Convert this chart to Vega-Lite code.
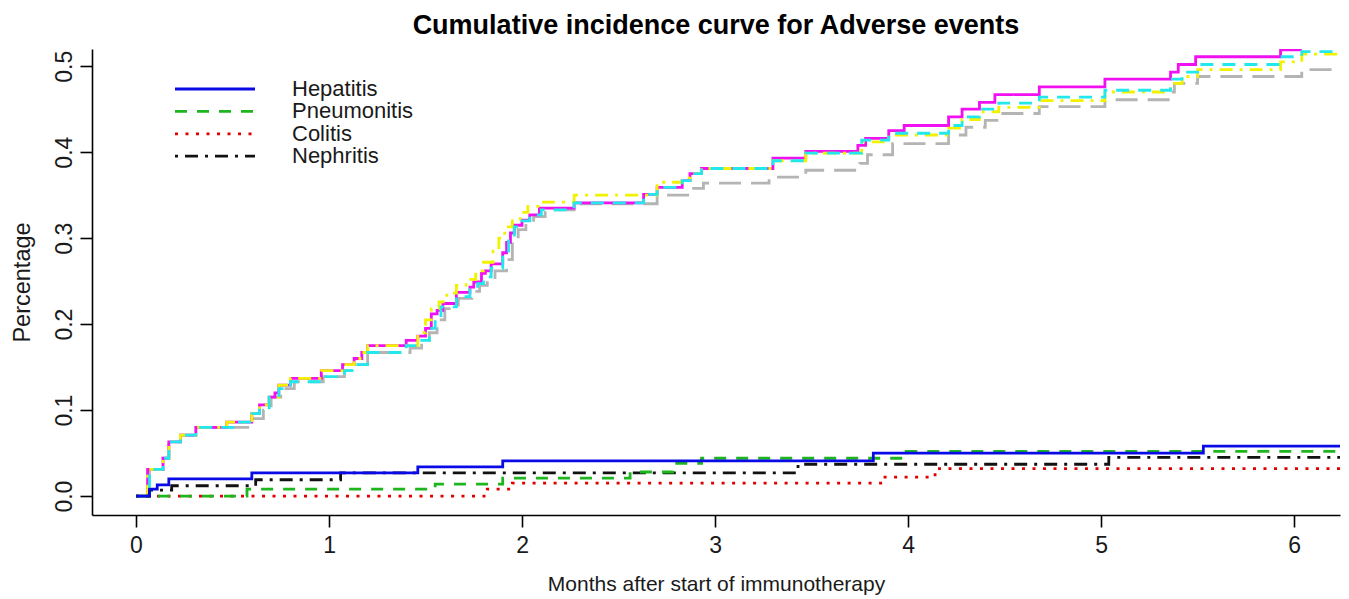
{
  "$schema": "https://vega.github.io/schema/vega-lite/v6.json",
  "width": 1248,
  "height": 466,
  "autosize": {"type": "none"},
  "padding": {"left": 92, "top": 49, "right": 9, "bottom": 84},
  "background": "white",
  "title": {"text": "Cumulative incidence curve for Adverse events", "font": "Liberation Sans", "fontSize": 27, "fontWeight": "bold", "color": "#000000", "anchor": "middle", "baseline": "alphabetic", "offset": -12, "frame": "group"},
  "config": {
    "view": {"stroke": null},
    "axis": {"grid": false, "domainColor": "#000000", "domainWidth": 1.6, "tickColor": "#000000", "tickWidth": 1.6, "tickSize": 12, "labelColor": "#1a1a1a", "titleColor": "#1a1a1a", "titleFontWeight": "normal", "labelFlush": false, "labelOverlap": false}
  },
  "data": {"values": [
    {"s":"Overall (gray)","t":0,"v":0},{"s":"Overall (gray)","t":0.07,"v":0.031},{"s":"Overall (gray)","t":0.14,"v":0.044},{"s":"Overall (gray)","t":0.17,"v":0.063},{"s":"Overall (gray)","t":0.23,"v":0.071},{"s":"Overall (gray)","t":0.31,"v":0.080},{"s":"Overall (gray)","t":0.60,"v":0.090},{"s":"Overall (gray)","t":0.66,"v":0.100},{"s":"Overall (gray)","t":0.70,"v":0.115},{"s":"Overall (gray)","t":0.75,"v":0.125},{"s":"Overall (gray)","t":0.82,"v":0.133},{"s":"Overall (gray)","t":0.97,"v":0.139},{"s":"Overall (gray)","t":1.08,"v":0.146},{"s":"Overall (gray)","t":1.15,"v":0.153},{"s":"Overall (gray)","t":1.20,"v":0.167},{"s":"Overall (gray)","t":1.42,"v":0.172},{"s":"Overall (gray)","t":1.48,"v":0.181},{"s":"Overall (gray)","t":1.52,"v":0.190},{"s":"Overall (gray)","t":1.56,"v":0.205},{"s":"Overall (gray)","t":1.60,"v":0.218},{"s":"Overall (gray)","t":1.67,"v":0.230},{"s":"Overall (gray)","t":1.74,"v":0.238},{"s":"Overall (gray)","t":1.78,"v":0.245},{"s":"Overall (gray)","t":1.82,"v":0.252},{"s":"Overall (gray)","t":1.86,"v":0.262},{"s":"Overall (gray)","t":1.92,"v":0.275},{"s":"Overall (gray)","t":1.95,"v":0.297},{"s":"Overall (gray)","t":1.98,"v":0.310},{"s":"Overall (gray)","t":2.02,"v":0.318},{"s":"Overall (gray)","t":2.06,"v":0.325},{"s":"Overall (gray)","t":2.12,"v":0.333},{"s":"Overall (gray)","t":2.27,"v":0.340},{"s":"Overall (gray)","t":2.70,"v":0.350},{"s":"Overall (gray)","t":2.87,"v":0.358},{"s":"Overall (gray)","t":2.94,"v":0.364},{"s":"Overall (gray)","t":3.28,"v":0.371},{"s":"Overall (gray)","t":3.47,"v":0.379},{"s":"Overall (gray)","t":3.75,"v":0.387},{"s":"Overall (gray)","t":3.79,"v":0.397},{"s":"Overall (gray)","t":3.92,"v":0.410},{"s":"Overall (gray)","t":4.21,"v":0.420},{"s":"Overall (gray)","t":4.30,"v":0.429},{"s":"Overall (gray)","t":4.40,"v":0.437},{"s":"Overall (gray)","t":4.47,"v":0.445},{"s":"Overall (gray)","t":4.68,"v":0.453},{"s":"Overall (gray)","t":5.02,"v":0.461},{"s":"Overall (gray)","t":5.36,"v":0.470},{"s":"Overall (gray)","t":5.38,"v":0.480},{"s":"Overall (gray)","t":5.50,"v":0.488},{"s":"Overall (gray)","t":6.04,"v":0.496},{"s":"Overall (gray)","t":6.30,"v":0.496},

    {"s":"Overall (magenta)","t":0,"v":0},{"s":"Overall (magenta)","t":0.06,"v":0.031},{"s":"Overall (magenta)","t":0.14,"v":0.044},{"s":"Overall (magenta)","t":0.17,"v":0.063},{"s":"Overall (magenta)","t":0.23,"v":0.071},{"s":"Overall (magenta)","t":0.31,"v":0.080},{"s":"Overall (magenta)","t":0.47,"v":0.086},{"s":"Overall (magenta)","t":0.60,"v":0.096},{"s":"Overall (magenta)","t":0.64,"v":0.106},{"s":"Overall (magenta)","t":0.69,"v":0.115},{"s":"Overall (magenta)","t":0.72,"v":0.120},{"s":"Overall (magenta)","t":0.74,"v":0.129},{"s":"Overall (magenta)","t":0.80,"v":0.137},{"s":"Overall (magenta)","t":0.96,"v":0.146},{"s":"Overall (magenta)","t":1.07,"v":0.153},{"s":"Overall (magenta)","t":1.13,"v":0.160},{"s":"Overall (magenta)","t":1.17,"v":0.167},{"s":"Overall (magenta)","t":1.20,"v":0.175},{"s":"Overall (magenta)","t":1.40,"v":0.181},{"s":"Overall (magenta)","t":1.46,"v":0.186},{"s":"Overall (magenta)","t":1.50,"v":0.195},{"s":"Overall (magenta)","t":1.53,"v":0.212},{"s":"Overall (magenta)","t":1.56,"v":0.216},{"s":"Overall (magenta)","t":1.59,"v":0.224},{"s":"Overall (magenta)","t":1.66,"v":0.237},{"s":"Overall (magenta)","t":1.73,"v":0.243},{"s":"Overall (magenta)","t":1.75,"v":0.249},{"s":"Overall (magenta)","t":1.79,"v":0.259},{"s":"Overall (magenta)","t":1.81,"v":0.262},{"s":"Overall (magenta)","t":1.84,"v":0.270},{"s":"Overall (magenta)","t":1.90,"v":0.283},{"s":"Overall (magenta)","t":1.92,"v":0.295},{"s":"Overall (magenta)","t":1.94,"v":0.306},{"s":"Overall (magenta)","t":1.96,"v":0.315},{"s":"Overall (magenta)","t":2.00,"v":0.321},{"s":"Overall (magenta)","t":2.04,"v":0.327},{"s":"Overall (magenta)","t":2.09,"v":0.335},{"s":"Overall (magenta)","t":2.27,"v":0.341},{"s":"Overall (magenta)","t":2.63,"v":0.351},{"s":"Overall (magenta)","t":2.70,"v":0.359},{"s":"Overall (magenta)","t":2.83,"v":0.367},{"s":"Overall (magenta)","t":2.87,"v":0.375},{"s":"Overall (magenta)","t":2.93,"v":0.381},{"s":"Overall (magenta)","t":3.30,"v":0.393},{"s":"Overall (magenta)","t":3.47,"v":0.401},{"s":"Overall (magenta)","t":3.74,"v":0.408},{"s":"Overall (magenta)","t":3.78,"v":0.416},{"s":"Overall (magenta)","t":3.90,"v":0.425},{"s":"Overall (magenta)","t":3.98,"v":0.431},{"s":"Overall (magenta)","t":4.21,"v":0.441},{"s":"Overall (magenta)","t":4.28,"v":0.450},{"s":"Overall (magenta)","t":4.37,"v":0.458},{"s":"Overall (magenta)","t":4.45,"v":0.467},{"s":"Overall (magenta)","t":4.68,"v":0.476},{"s":"Overall (magenta)","t":5.02,"v":0.485},{"s":"Overall (magenta)","t":5.36,"v":0.493},{"s":"Overall (magenta)","t":5.40,"v":0.502},{"s":"Overall (magenta)","t":5.49,"v":0.511},{"s":"Overall (magenta)","t":5.93,"v":0.519},{"s":"Overall (magenta)","t":6.04,"v":0.519},

    {"s":"Overall (yellow)","t":0,"v":0},{"s":"Overall (yellow)","t":0.06,"v":0.031},{"s":"Overall (yellow)","t":0.14,"v":0.044},{"s":"Overall (yellow)","t":0.17,"v":0.063},{"s":"Overall (yellow)","t":0.23,"v":0.071},{"s":"Overall (yellow)","t":0.31,"v":0.080},{"s":"Overall (yellow)","t":0.47,"v":0.086},{"s":"Overall (yellow)","t":0.60,"v":0.096},{"s":"Overall (yellow)","t":0.64,"v":0.106},{"s":"Overall (yellow)","t":0.69,"v":0.115},{"s":"Overall (yellow)","t":0.74,"v":0.129},{"s":"Overall (yellow)","t":0.80,"v":0.137},{"s":"Overall (yellow)","t":0.96,"v":0.146},{"s":"Overall (yellow)","t":1.07,"v":0.153},{"s":"Overall (yellow)","t":1.13,"v":0.160},{"s":"Overall (yellow)","t":1.17,"v":0.167},{"s":"Overall (yellow)","t":1.20,"v":0.175},{"s":"Overall (yellow)","t":1.46,"v":0.190},{"s":"Overall (yellow)","t":1.50,"v":0.205},{"s":"Overall (yellow)","t":1.53,"v":0.218},{"s":"Overall (yellow)","t":1.57,"v":0.226},{"s":"Overall (yellow)","t":1.61,"v":0.236},{"s":"Overall (yellow)","t":1.66,"v":0.245},{"s":"Overall (yellow)","t":1.71,"v":0.252},{"s":"Overall (yellow)","t":1.76,"v":0.262},{"s":"Overall (yellow)","t":1.80,"v":0.272},{"s":"Overall (yellow)","t":1.85,"v":0.285},{"s":"Overall (yellow)","t":1.88,"v":0.300},{"s":"Overall (yellow)","t":1.91,"v":0.313},{"s":"Overall (yellow)","t":1.95,"v":0.322},{"s":"Overall (yellow)","t":1.99,"v":0.330},{"s":"Overall (yellow)","t":2.03,"v":0.337},{"s":"Overall (yellow)","t":2.09,"v":0.342},{"s":"Overall (yellow)","t":2.27,"v":0.350},{"s":"Overall (yellow)","t":2.70,"v":0.365},{"s":"Overall (yellow)","t":2.83,"v":0.370},{"s":"Overall (yellow)","t":2.87,"v":0.375},{"s":"Overall (yellow)","t":2.93,"v":0.381},{"s":"Overall (yellow)","t":3.30,"v":0.390},{"s":"Overall (yellow)","t":3.47,"v":0.399},{"s":"Overall (yellow)","t":3.76,"v":0.412},{"s":"Overall (yellow)","t":3.90,"v":0.420},{"s":"Overall (yellow)","t":4.21,"v":0.428},{"s":"Overall (yellow)","t":4.28,"v":0.438},{"s":"Overall (yellow)","t":4.37,"v":0.447},{"s":"Overall (yellow)","t":4.47,"v":0.452},{"s":"Overall (yellow)","t":4.68,"v":0.460},{"s":"Overall (yellow)","t":5.02,"v":0.470},{"s":"Overall (yellow)","t":5.36,"v":0.480},{"s":"Overall (yellow)","t":5.42,"v":0.488},{"s":"Overall (yellow)","t":5.50,"v":0.496},{"s":"Overall (yellow)","t":5.93,"v":0.505},{"s":"Overall (yellow)","t":6.04,"v":0.514},{"s":"Overall (yellow)","t":6.30,"v":0.514},

    {"s":"Overall (cyan)","t":0,"v":0},{"s":"Overall (cyan)","t":0.07,"v":0.031},{"s":"Overall (cyan)","t":0.14,"v":0.044},{"s":"Overall (cyan)","t":0.17,"v":0.063},{"s":"Overall (cyan)","t":0.23,"v":0.071},{"s":"Overall (cyan)","t":0.31,"v":0.080},{"s":"Overall (cyan)","t":0.52,"v":0.086},{"s":"Overall (cyan)","t":0.60,"v":0.096},{"s":"Overall (cyan)","t":0.64,"v":0.100},{"s":"Overall (cyan)","t":0.69,"v":0.115},{"s":"Overall (cyan)","t":0.74,"v":0.125},{"s":"Overall (cyan)","t":0.80,"v":0.133},{"s":"Overall (cyan)","t":0.97,"v":0.139},{"s":"Overall (cyan)","t":1.08,"v":0.146},{"s":"Overall (cyan)","t":1.15,"v":0.153},{"s":"Overall (cyan)","t":1.20,"v":0.167},{"s":"Overall (cyan)","t":1.40,"v":0.175},{"s":"Overall (cyan)","t":1.47,"v":0.181},{"s":"Overall (cyan)","t":1.52,"v":0.195},{"s":"Overall (cyan)","t":1.55,"v":0.208},{"s":"Overall (cyan)","t":1.58,"v":0.220},{"s":"Overall (cyan)","t":1.66,"v":0.232},{"s":"Overall (cyan)","t":1.73,"v":0.240},{"s":"Overall (cyan)","t":1.77,"v":0.247},{"s":"Overall (cyan)","t":1.80,"v":0.255},{"s":"Overall (cyan)","t":1.84,"v":0.265},{"s":"Overall (cyan)","t":1.90,"v":0.278},{"s":"Overall (cyan)","t":1.93,"v":0.300},{"s":"Overall (cyan)","t":1.96,"v":0.313},{"s":"Overall (cyan)","t":2.00,"v":0.320},{"s":"Overall (cyan)","t":2.04,"v":0.327},{"s":"Overall (cyan)","t":2.10,"v":0.333},{"s":"Overall (cyan)","t":2.27,"v":0.341},{"s":"Overall (cyan)","t":2.63,"v":0.351},{"s":"Overall (cyan)","t":2.70,"v":0.359},{"s":"Overall (cyan)","t":2.83,"v":0.367},{"s":"Overall (cyan)","t":2.87,"v":0.375},{"s":"Overall (cyan)","t":2.93,"v":0.381},{"s":"Overall (cyan)","t":3.30,"v":0.390},{"s":"Overall (cyan)","t":3.47,"v":0.399},{"s":"Overall (cyan)","t":3.76,"v":0.414},{"s":"Overall (cyan)","t":3.90,"v":0.422},{"s":"Overall (cyan)","t":4.21,"v":0.431},{"s":"Overall (cyan)","t":4.28,"v":0.441},{"s":"Overall (cyan)","t":4.37,"v":0.450},{"s":"Overall (cyan)","t":4.47,"v":0.457},{"s":"Overall (cyan)","t":4.68,"v":0.464},{"s":"Overall (cyan)","t":5.02,"v":0.472},{"s":"Overall (cyan)","t":5.36,"v":0.485},{"s":"Overall (cyan)","t":5.42,"v":0.493},{"s":"Overall (cyan)","t":5.50,"v":0.502},{"s":"Overall (cyan)","t":5.93,"v":0.511},{"s":"Overall (cyan)","t":6.04,"v":0.517},{"s":"Overall (cyan)","t":6.30,"v":0.517},

    {"s":"Colitis","t":0,"v":0},{"s":"Colitis","t":1.82,"v":0.008},{"s":"Colitis","t":1.95,"v":0.015},{"s":"Colitis","t":3.87,"v":0.022},{"s":"Colitis","t":4.14,"v":0.032},{"s":"Colitis","t":6.30,"v":0.032},

    {"s":"Nephritis","t":0,"v":0},{"s":"Nephritis","t":0.07,"v":0.007},{"s":"Nephritis","t":0.185,"v":0.012},{"s":"Nephritis","t":0.62,"v":0.019},{"s":"Nephritis","t":1.06,"v":0.027},{"s":"Nephritis","t":3.43,"v":0.037},{"s":"Nephritis","t":5.04,"v":0.045},{"s":"Nephritis","t":6.30,"v":0.045},

    {"s":"Pneumonitis","t":0,"v":0},{"s":"Pneumonitis","t":0.575,"v":0.008},{"s":"Pneumonitis","t":1.55,"v":0.014},{"s":"Pneumonitis","t":1.90,"v":0.021},{"s":"Pneumonitis","t":2.56,"v":0.028},{"s":"Pneumonitis","t":2.78,"v":0.038},{"s":"Pneumonitis","t":2.93,"v":0.044},{"s":"Pneumonitis","t":3.99,"v":0.052},{"s":"Pneumonitis","t":6.30,"v":0.052},

    {"s":"Hepatitis","t":0,"v":0},{"s":"Hepatitis","t":0.07,"v":0.008},{"s":"Hepatitis","t":0.11,"v":0.013},{"s":"Hepatitis","t":0.17,"v":0.020},{"s":"Hepatitis","t":0.60,"v":0.027},{"s":"Hepatitis","t":1.46,"v":0.034},{"s":"Hepatitis","t":1.90,"v":0.041},{"s":"Hepatitis","t":3.82,"v":0.050},{"s":"Hepatitis","t":5.53,"v":0.058},{"s":"Hepatitis","t":6.30,"v":0.058}
  ]},
  "mark": {"type": "line", "interpolate": "step-after", "strokeWidth": 2.8, "clip": true},
  "encoding": {
    "x": {"field": "t", "type": "quantitative",
      "scale": {"domain": [-0.228, 6.238], "nice": false, "zero": false},
      "axis": {"values": [0, 1, 2, 3, 4, 5, 6], "format": "d", "title": "Months after start of immunotherapy",
        "labelFont": "Liberation Sans", "labelFontSize": 23, "labelPadding": 7,
        "titleFont": "Liberation Sans", "titleFontSize": 21, "titleX": 624, "titleY": 75, "titleAlign": "center", "titleBaseline": "alphabetic"}},
    "y": {"field": "v", "type": "quantitative",
      "scale": {"domain": [-0.022, 0.52], "nice": false, "zero": false},
      "axis": {"values": [0, 0.1, 0.2, 0.3, 0.4, 0.5], "format": ".1f", "title": "Percentage",
        "labelFont": "Liberation Sans", "labelFontSize": 23, "labelAngle": 270, "labelAlign": "center", "labelBaseline": "alphabetic", "labelPadding": 9,
        "titleFont": "Liberation Sans", "titleFontSize": 23.5, "titleAngle": 270, "titleX": -63, "titleY": 233, "titleAlign": "center", "titleBaseline": "alphabetic"}},
    "color": {"field": "s", "type": "nominal", "sort": null,
      "scale": {"domain": ["Overall (gray)", "Overall (magenta)", "Overall (yellow)", "Overall (cyan)", "Colitis", "Nephritis", "Pneumonitis", "Hepatitis"],
        "range": ["#b4b4b4", "#f010f0", "#f2f200", "#22e8ee", "#e00000", "#111111", "#1fb51f", "#0a0ae6"]},
      "legend": {"values": ["Hepatitis", "Pneumonitis", "Colitis", "Nephritis"], "title": null, "orient": "none", "legendX": 112, "legendY": 29, "padding": 0,
        "symbolType": "M-5,0H5", "symbolSize": 256, "symbolStrokeWidth": 2.8, "symbolFillColor": "transparent",
        "labelFont": "Liberation Sans", "labelFontSize": 22, "labelColor": "#1a1a1a", "labelOffset": 66, "rowPadding": 0.4}},
    "strokeDash": {"field": "s", "type": "nominal", "sort": null,
      "scale": {"domain": ["Overall (gray)", "Overall (magenta)", "Overall (yellow)", "Overall (cyan)", "Colitis", "Nephritis", "Pneumonitis", "Hepatitis"],
        "range": [[22, 10], [1, 0], [3, 7, 13, 7], [13, 9], [3, 7.5], [3, 7, 13, 7], [12, 10], [1, 0]]},
      "legend": {"values": ["Hepatitis", "Pneumonitis", "Colitis", "Nephritis"], "title": null, "orient": "none", "legendX": 112, "legendY": 29, "padding": 0,
        "symbolType": "M-5,0H5", "symbolSize": 256, "symbolStrokeWidth": 2.8, "symbolFillColor": "transparent",
        "labelFont": "Liberation Sans", "labelFontSize": 22, "labelColor": "#1a1a1a", "labelOffset": 66, "rowPadding": 0.4}}
  }
}
